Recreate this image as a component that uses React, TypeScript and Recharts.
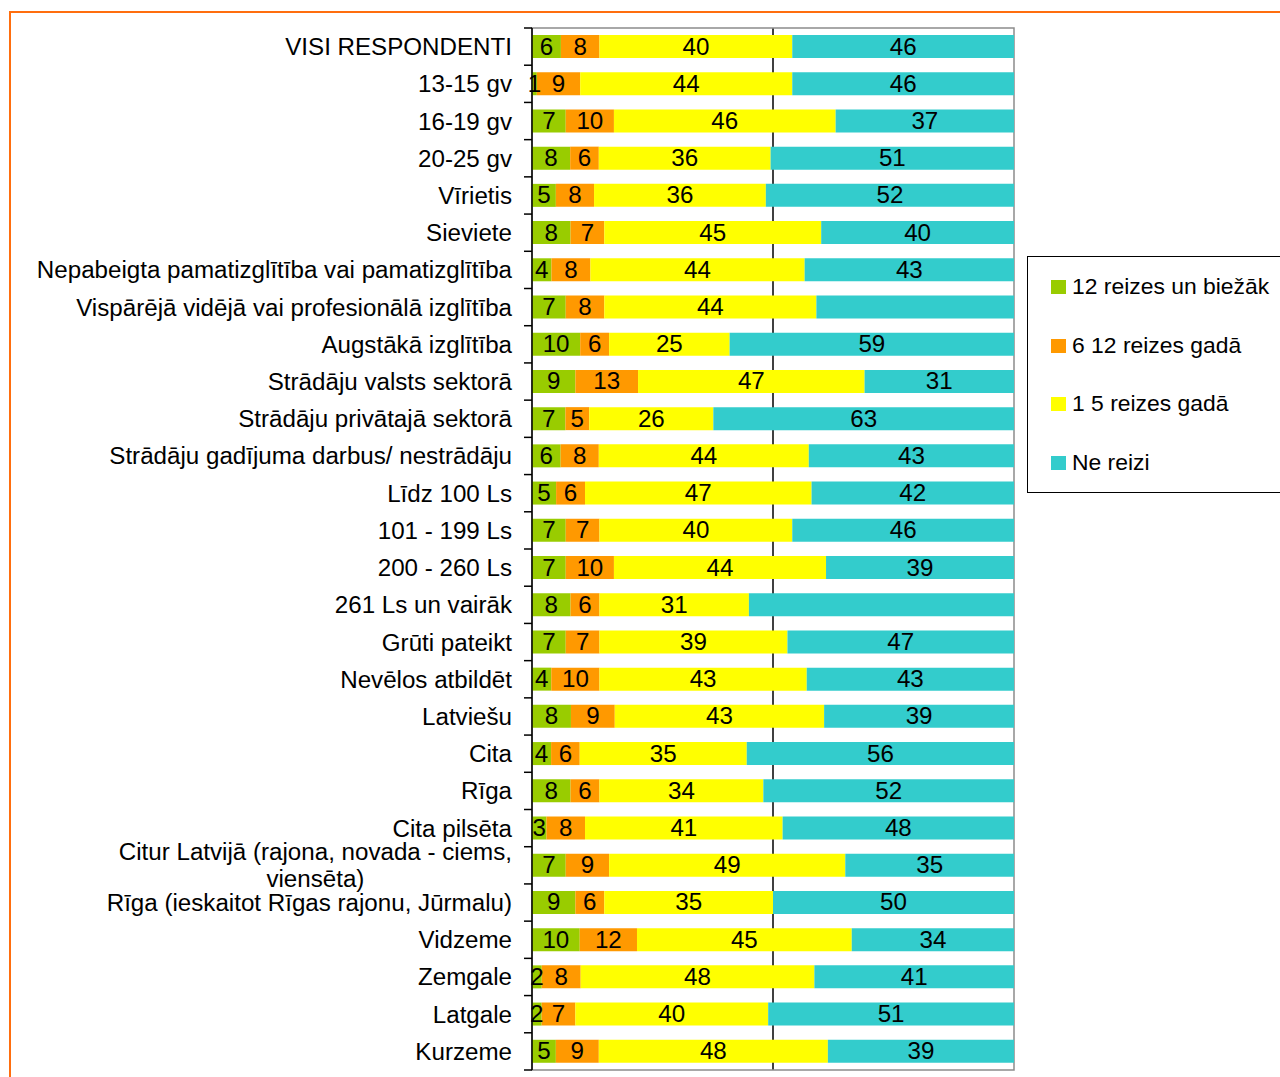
import React from "react";
import {
  Bar,
  BarChart,
  CartesianGrid,
  LabelList,
  Legend,
  ReferenceArea,
  XAxis,
  YAxis,
} from "recharts";

const CATEGORIES = [
  "VISI RESPONDENTI",
  "13-15 gv",
  "16-19 gv",
  "20-25 gv",
  "Vīrietis",
  "Sieviete",
  "Nepabeigta pamatizglītība vai pamatizglītība",
  "Vispārējā vidējā vai profesionālā izglītība",
  "Augstākā izglītība",
  "Strādāju valsts sektorā",
  "Strādāju privātajā sektorā",
  "Strādāju gadījuma darbus/ nestrādāju",
  "Līdz 100 Ls",
  "101 - 199 Ls",
  "200 - 260 Ls",
  "261 Ls un vairāk",
  "Grūti pateikt",
  "Nevēlos atbildēt",
  "Latviešu",
  "Cita",
  "Rīga",
  "Cita pilsēta",
  "Citur Latvijā (rajona, novada - ciems, viensēta)",
  "Rīga (ieskaitot Rīgas rajonu, Jūrmalu)",
  "Vidzeme",
  "Zemgale",
  "Latgale",
  "Kurzeme",
];

const BIEZAK = [6, 1, 7, 8, 5, 8, 4, 7, 10, 9, 7, 6, 5, 7, 7, 8, 7, 4, 8, 4, 8, 3, 7, 9, 10, 2, 2, 5];
const GADA_6_12 = [8, 9, 10, 6, 8, 7, 8, 8, 6, 13, 5, 8, 6, 7, 10, 6, 7, 10, 9, 6, 6, 8, 9, 6, 12, 8, 7, 9];
const GADA_1_5 = [40, 44, 46, 36, 36, 45, 44, 44, 25, 47, 26, 44, 47, 40, 44, 31, 39, 43, 43, 35, 34, 41, 49, 35, 45, 48, 40, 48];
const NE_REIZI = [46, 46, 37, 51, 52, 40, 43, 41, 59, 31, 63, 43, 42, 46, 39, 55, 47, 43, 39, 56, 52, 48, 35, 50, 34, 41, 51, 39];

// these two rows have no number printed on the "Ne reizi" segment
const NE_REIZI_UNLABELLED = [
  "Vispārējā vidējā vai profesionālā izglītība",
  "261 Ls un vairāk",
];

const SERIES = [
  { key: "biezak", label: "biezak", name: "12 reizes un biežāk", color: "#99CC00" },
  { key: "gada612", label: "gada612", name: "6 12 reizes gadā", color: "#FF9900" },
  { key: "gada15", label: "gada15", name: "1 5 reizes gadā", color: "#FFFF00" },
  { key: "ne", label: "neLabel", name: "Ne reizi", color: "#33CCCC" },
];

const FONT = "'Liberation Sans', Arial, Helvetica, sans-serif";
const CHART_W = 1280;
const CHART_H = 1077;
const MARGIN = { top: 28, right: 266, bottom: 7, left: 0 };
const AXIS_W = 532;
const PLOT_H = CHART_H - MARGIN.top - MARGIN.bottom;
const BAND = PLOT_H / CATEGORIES.length;
const TICK_SIZE = 8;
const LABEL_GAP = 20;
const LABEL_RIGHT = MARGIN.left + AXIS_W - LABEL_GAP;
const FONT_SIZE = 23;
const STRETCH = 1.05; // the source text runs a little wider than Arial
const WRAP_WIDTH = 490;

const data = CATEGORIES.map((name, i) => ({
  name,
  biezak: BIEZAK[i],
  gada612: GADA_6_12[i],
  gada15: GADA_1_5[i],
  ne: NE_REIZI[i],
  neLabel: NE_REIZI_UNLABELLED.includes(name) ? "" : NE_REIZI[i],
}));

let measureCtx: CanvasRenderingContext2D | null = null;
function textWidth(s: string) {
  if (!measureCtx) measureCtx = document.createElement("canvas").getContext("2d");
  if (!measureCtx) return s.length * FONT_SIZE * 0.5 * STRETCH;
  measureCtx.font = `${FONT_SIZE}px 'Liberation Sans', Arial, sans-serif`;
  return measureCtx.measureText(s).width * STRETCH;
}

function wrap(label: string): string[] {
  if (textWidth(label) <= WRAP_WIDTH) return [label];
  const lines: string[] = [];
  let line = "";
  for (const word of label.split(" ")) {
    const next = line ? `${line} ${word}` : word;
    if (line && textWidth(next) > WRAP_WIDTH) {
      lines.push(line);
      line = word;
    } else {
      line = next;
    }
  }
  if (line) lines.push(line);
  return lines;
}

function StretchedText({ x, y, anchor, children }: any) {
  return (
    <text
      transform={`translate(${x},${y}) scale(${STRETCH},1)`}
      textAnchor={anchor}
      fontSize={FONT_SIZE}
      fill="#000"
    >
      {children}
    </text>
  );
}

function CategoryTick(props: any) {
  const { y, payload, index } = props;
  const axisX = MARGIN.left + AXIS_W;
  const lines = wrap(String(payload.value));
  const top = y - BAND / 2;
  const bottom = y + BAND / 2;
  const first = textWidth(lines[0]);
  return (
    <g>
      <line x1={axisX - TICK_SIZE} x2={axisX} y1={top} y2={top} stroke="#000" strokeWidth={1.5} />
      {index === CATEGORIES.length - 1 && (
        <line x1={axisX - TICK_SIZE} x2={axisX} y1={bottom} y2={bottom} stroke="#000" strokeWidth={1.5} />
      )}
      {lines.map((l, i) => (
        <StretchedText
          key={l}
          x={i === 0 ? LABEL_RIGHT : LABEL_RIGHT - first / 2}
          y={y + 8.5 + (i - (lines.length - 1) / 2) * 27}
          anchor={i === 0 ? "end" : "middle"}
        >
          {l}
        </StretchedText>
      ))}
    </g>
  );
}

function SegmentLabel(props: any) {
  const { x, y, width, height, value } = props;
  if (value === "" || value == null) return null;
  return (
    <StretchedText x={x + width / 2} y={y + height / 2 + 8} anchor="middle">
      {value}
    </StretchedText>
  );
}

function LegendBox({ payload }: any) {
  return (
    <div
      style={{
        width: 275,
        height: 237,
        border: "1.5px solid #000",
        boxSizing: "border-box",
        paddingTop: 1,
        background: "#fff",
      }}
    >
      {(payload || []).map((p: any) => (
        <div
          key={p.value}
          style={{ height: 58.6, display: "flex", alignItems: "center", paddingLeft: 23 }}
        >
          <span style={{ width: 15, height: 14, background: p.color, marginRight: 6, flex: "none" }} />
          <span
            style={{
              fontSize: 22,
              color: "#000",
              whiteSpace: "nowrap",
              display: "inline-block",
              transform: "scaleX(1.04)",
              transformOrigin: "left center",
            }}
          >
            {p.value}
          </span>
        </div>
      ))}
    </div>
  );
}

export default function App() {
  return (
    <div
      style={{
        position: "absolute",
        left: 0,
        top: 0,
        width: CHART_W,
        height: CHART_H,
        overflow: "hidden",
        background: "#fff",
        fontFamily: FONT,
      }}
    >
      <div
        style={{
          position: "absolute",
          left: 9,
          top: 11,
          width: 1400,
          height: 1200,
          borderLeft: "2px solid #FF6E0E",
          borderTop: "2px solid #FF6E0E",
        }}
      />
      <BarChart
        width={CHART_W}
        height={CHART_H}
        data={data}
        layout="vertical"
        stackOffset="expand"
        barSize={23}
        margin={MARGIN}
        style={{ position: "absolute", left: 0, top: 0 }}
      >
        <CartesianGrid horizontal={false} verticalValues={[0.5]} stroke="#000" strokeWidth={1.5} />
        <XAxis type="number" domain={[0, 1]} hide />
        <YAxis
          type="category"
          dataKey="name"
          width={AXIS_W}
          interval={0}
          tickLine={false}
          tick={<CategoryTick />}
          axisLine={{ stroke: "#000", strokeWidth: 1.5 }}
        />
        {SERIES.map((s) => (
          <Bar
            key={s.key}
            dataKey={s.key}
            name={s.name}
            stackId="a"
            fill={s.color}
            isAnimationActive={false}
          >
            <LabelList dataKey={s.label} position="center" content={<SegmentLabel />} />
          </Bar>
        ))}
        <ReferenceArea x1={0} x2={1} fill="none" stroke="#8C8C8C" strokeWidth={1.5} ifOverflow="visible" />
        <Legend
          layout="vertical"
          verticalAlign="middle"
          align="center"
          itemSorter={(item: any) => SERIES.findIndex((s) => s.key === item.dataKey)}
          content={<LegendBox />}
          wrapperStyle={{ left: 1027, top: 256, width: 280 }}
        />
      </BarChart>
    </div>
  );
}
